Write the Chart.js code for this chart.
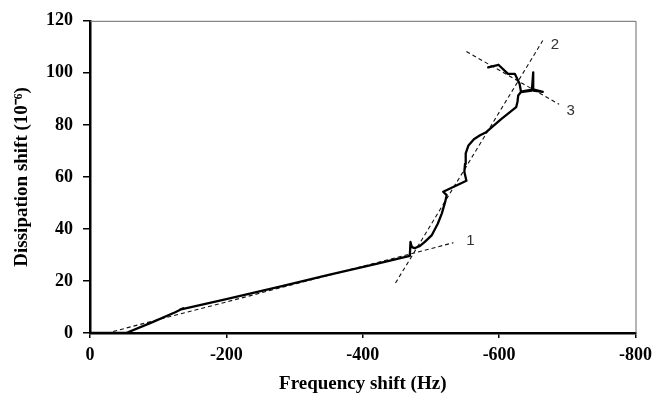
<!DOCTYPE html>
<html>
<head>
<meta charset="utf-8">
<script src="https://cdn.jsdelivr.net/npm/chart.js@4"></script>
<style>
    html, body { margin: 0; padding: 0; background: #fff; }
    #wrap { width: 659px; height: 394px; }
</style>
</head>
<body>
<div id="wrap"><canvas id="qcmChart" width="659" height="394"></canvas></div>
<script>
// measured curve (frequency shift in Hz, dissipation shift in 1e-6)
const freqShift = [0, -20, -53, -90, -125, -137, -132, -200, -280, -350, -420, -469,
    -470, -472, -476, -484, -491, -501, -510, -516, -521, -523, -518, -552, -549, -550,
    -551, -555, -563, -572, -581, -603, -625, -627, -628, -632, -648, -650, -650, -664,
    -650, -632, -630, -623, -613, -599, -590, -584];
const dissShift = [0, 0, 0, 4, 8, 9.5, 9, 13, 17.9, 22.3, 26.6, 29.6,
    35, 33, 32.6, 33.5, 35, 37.5, 42, 46, 50.5, 53, 54.3, 58.5, 62, 65,
    69, 72.1, 74.5, 76, 77.2, 82.2, 86.8, 89, 91.3, 92.6, 93.2, 100.2, 93.2, 92.7,
    93.6, 92.8, 95.8, 99.6, 99.6, 103.1, 102.5, 102.1];

// dashed fit lines (start and end points)
const fit1X = [-34, -533];
const fit1Y = [0.6, 34.7];
const fit2X = [-448, -664];
const fit2Y = [19.2, 112.4];
const fit3X = [-552, -688];
const fit3Y = [108.2, 87.9];

// line labels
const labelText = ['1', '2', '3'];
const labelX = [-558, -682, -705];
const labelY = [35.5, 110.8, 85.5];

// axes
const xTicks = [0, -200, -400, -600, -800];
const yTicks = [0, 20, 40, 60, 80, 100, 120];

function toPoints(xs, ys) {
    return xs.map((x, i) => ({ x: x, y: ys[i] }));
}

const tickFont = { family: 'Liberation Serif', size: 18, weight: 'bold' };
const titleFont = { family: 'Liberation Serif', size: 19, weight: 'bold', lineHeight: 1 };

// thin frame on top and right
const framePlugin = {
    id: 'frame',
    afterDraw(chart) {
        const a = chart.chartArea;
        const ctx = chart.ctx;
        ctx.save();
        ctx.strokeStyle = '#6a6a6a';
        ctx.lineWidth = 1;
        ctx.beginPath();
        ctx.moveTo(a.left, a.top + 0.5);
        ctx.lineTo(a.right + 0.5, a.top + 0.5);
        ctx.lineTo(a.right + 0.5, a.bottom);
        ctx.stroke();
        ctx.restore();
    }
};

// numbers next to the dashed lines
const labelPlugin = {
    id: 'lineLabels',
    afterDatasetsDraw(chart) {
        const ctx = chart.ctx;
        const xs = chart.scales.x;
        const ys = chart.scales.y;
        ctx.save();
        ctx.font = '15px "Liberation Sans"';
        ctx.fillStyle = '#333';
        ctx.textAlign = 'center';
        ctx.textBaseline = 'middle';
        labelText.forEach((t, i) => {
            ctx.fillText(t, xs.getPixelForValue(labelX[i]), ys.getPixelForValue(labelY[i]));
        });
        ctx.restore();
    }
};

const dashed = {
    borderColor: '#111',
    borderWidth: 1.1,
    borderDash: [4, 3],
    pointRadius: 0,
    showLine: true,
    fill: false
};

new Chart(document.getElementById('qcmChart'), {
    type: 'scatter',
    data: {
        datasets: [
            {
                data: toPoints(freqShift, dissShift),
                borderColor: '#000',
                borderWidth: 2.3,
                pointRadius: 0,
                showLine: true,
                tension: 0,
                borderJoinStyle: 'round',
                borderCapStyle: 'round'
            },
            Object.assign({ data: toPoints(fit1X, fit1Y) }, dashed),
            Object.assign({ data: toPoints(fit2X, fit2Y) }, dashed),
            Object.assign({ data: toPoints(fit3X, fit3Y) }, dashed)
        ]
    },
    options: {
        responsive: false,
        animation: false,
        layout: { padding: { left: 0, top: 20, right: 21, bottom: 0 } },
        plugins: {
            legend: { display: false },
            tooltip: { enabled: false }
        },
        scales: {
            x: {
                type: 'linear',
                reverse: true,
                min: -800,
                max: 0,
                afterBuildTicks: s => { s.ticks = xTicks.map(v => ({ value: v })); },
                afterFit: s => { s.height = 61; },
                grid: { display: true, drawOnChartArea: false, drawTicks: true, tickLength: 5, color: '#000', lineWidth: 1.5 },
                border: { display: true, color: '#000', width: 2.5 },
                ticks: { font: tickFont, color: '#000', padding: 7, maxRotation: 0 },
                title: {
                    display: true,
                    text: 'Frequency shift (Hz)',
                    color: '#000',
                    font: titleFont,
                    padding: { top: 0, bottom: 0 }
                }
            },
            y: {
                min: 0,
                max: 120,
                afterBuildTicks: s => { s.ticks = yTicks.map(v => ({ value: v })); },
                afterFit: s => { s.width = 90; },
                grid: { display: true, drawOnChartArea: false, drawTicks: true, tickLength: 7, color: '#000', lineWidth: 1.5 },
                border: { display: true, color: '#000', width: 2.5 },
                ticks: { font: tickFont, color: '#000', padding: 10 },
                title: {
                    display: true,
                    text: 'Dissipation shift (10⁻⁶)',
                    color: '#000',
                    font: titleFont,
                    padding: { top: 13, bottom: 0 }
                }
            }
        }
    },
    plugins: [framePlugin, labelPlugin]
});
</script>
</body>
</html>
